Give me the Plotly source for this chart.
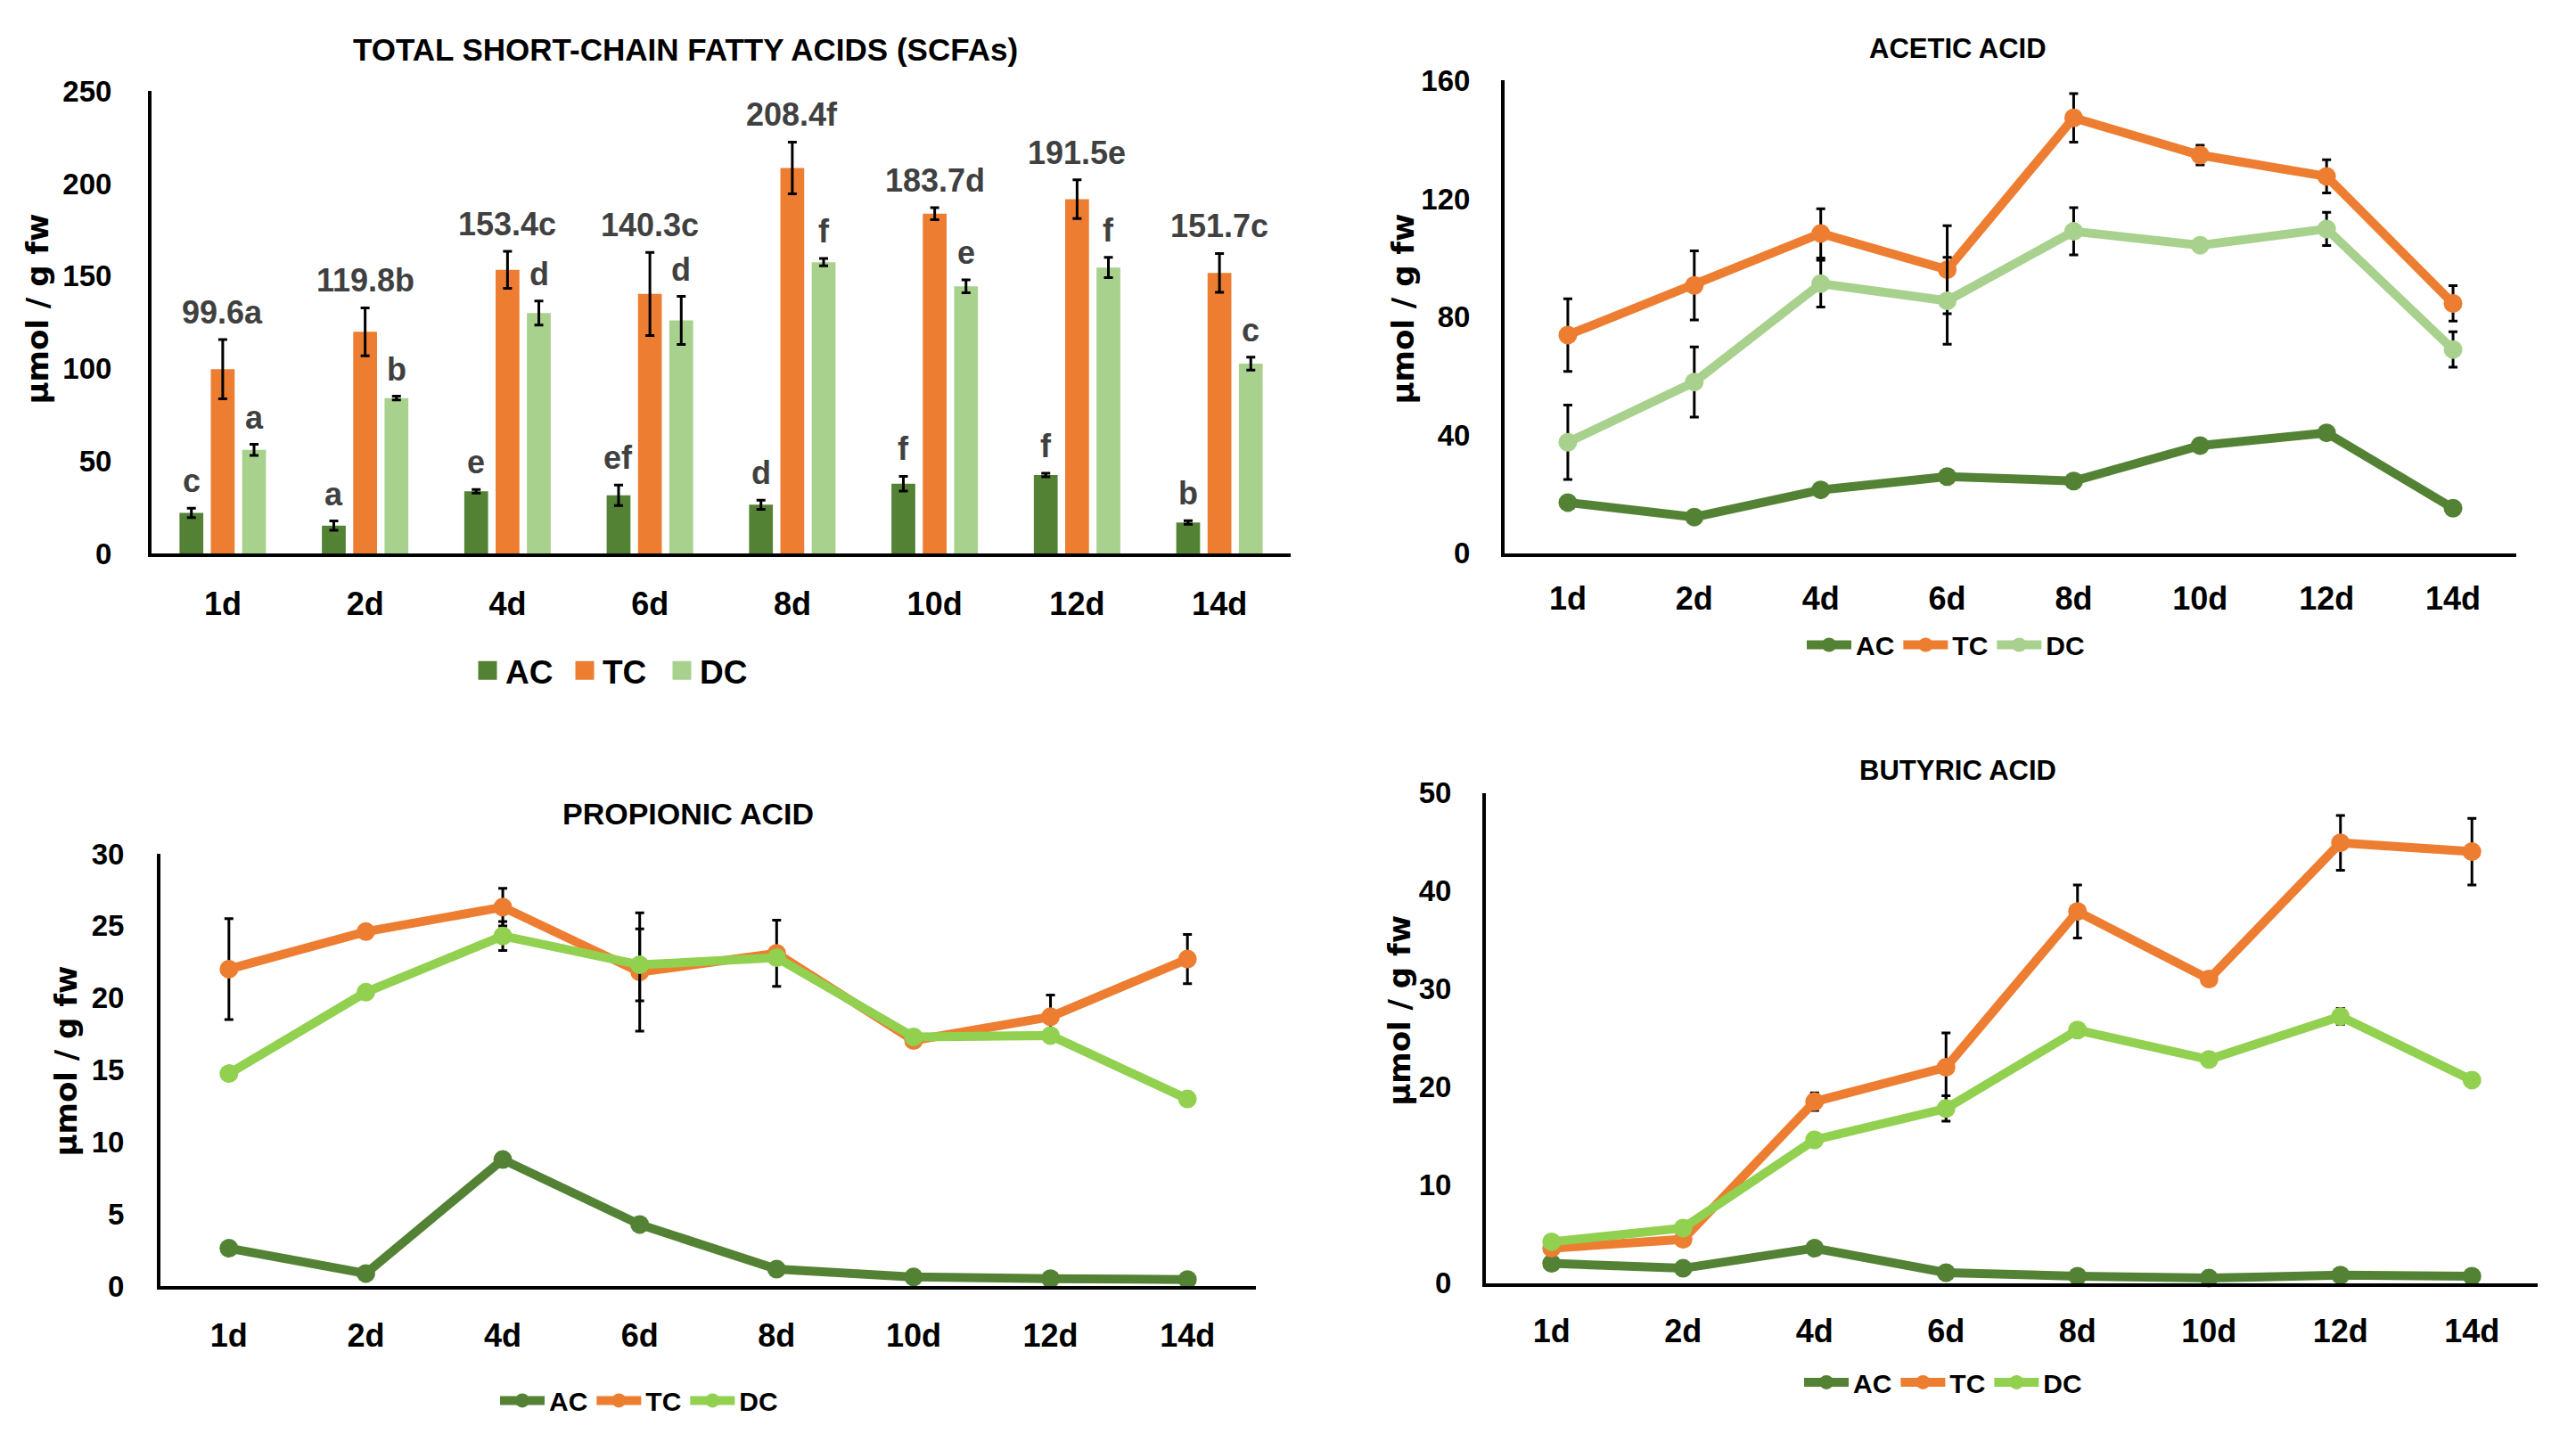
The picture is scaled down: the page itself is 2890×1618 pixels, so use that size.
import plotly.graph_objects as go

days = ["1d", "2d", "4d", "6d", "8d", "10d", "12d", "14d"]
groups = ["AC", "TC", "DC"]

# ---- Total SCFAs (bars) ----
tot_ac = [21.9, 15.0, 33.6, 31.4, 26.3, 37.7, 42.4, 16.7]
tot_ac_err = [2.5, 2.5, 1.0, 5.5, 2.5, 4.0, 1.0, 1.0]
tot_tc = [99.6, 119.8, 153.4, 140.3, 208.4, 183.7, 191.5, 151.7]
tot_tc_err = [16.0, 13.0, 10.0, 22.5, 14.0, 3.3, 10.5, 10.5]
tot_dc = [56.0, 84.0, 130.0, 126.0, 157.5, 144.4, 154.6, 102.6]
tot_dc_err = [3.0, 1.0, 6.5, 13.0, 2.0, 3.5, 5.5, 3.5]
tot_tc_labels = ["99.6a", "119.8b", "153.4c", "140.3c", "208.4f", "183.7d", "191.5e", "151.7c"]
tot_ac_letters = ["c", "a", "e", "ef", "d", "f", "f", "b"]
tot_dc_letters = ["a", "b", "d", "d", "f", "e", "f", "c"]

# ---- Acetic acid ----
ace_ac = [17.2, 12.3, 21.5, 26.0, 24.5, 36.5, 40.8, 15.3]
ace_ac_err = [1.0, 1.0, 1.0, 1.0, 1.0, 2.0, 1.0, 1.0]
ace_tc = [73.9, 90.7, 108.3, 96.0, 147.4, 134.8, 127.6, 84.6]
ace_tc_err = [12.3, 11.7, 8.3, 14.9, 8.2, 3.3, 5.6, 6.0]
ace_dc = [37.6, 58.0, 91.3, 85.5, 109.0, 104.3, 109.8, 69.0]
ace_dc_err = [12.6, 11.9, 7.9, 14.7, 8.0, 1.0, 5.6, 6.0]

# ---- Propionic acid ----
pro_ac = [2.65, 0.9, 8.8, 4.3, 1.2, 0.66, 0.54, 0.48]
pro_ac_err = [0.2, 0.1, 0.2, 0.2, 0.1, 0.05, 0.05, 0.05]
pro_tc = [22.0, 24.6, 26.3, 21.8, 23.1, 17.05, 18.7, 22.7]
pro_tc_err = [3.5, 0.3, 1.3, 4.1, 2.3, 0.2, 1.5, 1.7]
pro_dc = [14.76, 20.4, 24.3, 22.3, 22.8, 17.3, 17.4, 13.0]
pro_dc_err = [0.2, 0.3, 1.0, 2.5, 0.3, 0.2, 0.2, 0.2]

# ---- Butyric acid ----
but_ac = [2.0, 1.5, 3.55, 1.05, 0.7, 0.5, 0.8, 0.7]
but_ac_err = [0.2, 0.2, 0.3, 0.1, 0.1, 0.05, 0.1, 0.1]
but_tc = [3.55, 4.46, 18.5, 22.0, 37.9, 31.0, 44.9, 44.0]
but_tc_err = [0.3, 0.6, 0.9, 3.5, 2.7, 0.3, 2.8, 3.4]
but_dc = [4.2, 5.6, 14.6, 17.8, 25.8, 22.8, 27.2, 20.7]
but_dc_err = [0.2, 0.3, 0.3, 1.3, 0.3, 0.3, 0.8, 0.3]

titles = ["TOTAL SHORT-CHAIN FATTY ACIDS (SCFAs)", "ACETIC ACID", "PROPIONIC ACID", "BUTYRIC ACID"]
ylabel = "µmol / g fw"

# ---- styles ----
PAGE_W, PAGE_H = 2890, 1618
OFF = 8  # default page body margin
W, H = PAGE_W - 2 * OFF, PAGE_H - 2 * OFF


def fx(X):
    return (X - OFF) / W


def fy(Y):
    return 1 - (Y - OFF) / H


C_AC = "#548235"
C_TC = "#ed7d31"
C_DC_BAR = "#a9d18e"
C_DC_ACE = "#a9d18e"
C_DC_LINE = "#92d050"
FONT = "Liberation Sans, Arial, sans-serif"
YFONT = "DejaVu Sans"
LABEL_GRAY = "#404040"

# plot boxes in page pixels: (left, right, bottom(zero), top)
boxes = [
    (170, 1448, 617, 86),
    (1688, 2823, 617, 74),
    (180, 1409, 1459, 962),
    (1667, 2847, 1455, 892),
]
yranges = [(0, 250, 50), (0, 160, 40), (0, 30, 5), (0, 50, 10)]
title_pos = [(769, 38), (2196, 37), (772, 916), (2196, 866)]
title_size = [35, 31, 34, 31]
ylab_pos = [(42, 336), (1574, 336), (74, 1200), (1570, 1142)]
ytick_stand = [34, 28, 30, 28]
xtick_stand = [22, 16, 20, 19]
legend_pos = [(527, 752), (2022, 722), (556, 1590), (2019, 1569)]

fig = go.Figure()

# bars
bar_sets = [(tot_ac, tot_ac_err, C_AC, "AC"), (tot_tc, tot_tc_err, C_TC, "TC"), (tot_dc, tot_dc_err, C_DC_BAR, "DC")]
for vals, errs, col, name in bar_sets:
    fig.add_trace(go.Bar(
        x=days, y=vals, name=name, marker=dict(color=col, line=dict(width=0)),
        error_y=dict(type="data", array=errs, visible=True, color="black", thickness=3, width=5),
        xaxis="x", yaxis="y", showlegend=False,
    ))
# legend entries for the bar chart (square swatches)
for col, name in [(C_AC, "AC"), (C_TC, "TC"), (C_DC_BAR, "DC")]:
    fig.add_trace(go.Scatter(
        x=[None], y=[None], mode="markers", name=name,
        marker=dict(symbol="square", size=16, color=col, line=dict(color=col, width=5)),
        xaxis="x", yaxis="y", legend="legend",
    ))

line_sets = [
    ("2", [(ace_ac, ace_ac_err, C_AC), (ace_tc, ace_tc_err, C_TC), (ace_dc, ace_dc_err, C_DC_ACE)], "legend2"),
    ("3", [(pro_ac, pro_ac_err, C_AC), (pro_tc, pro_tc_err, C_TC), (pro_dc, pro_dc_err, C_DC_LINE)], "legend3"),
    ("4", [(but_ac, but_ac_err, C_AC), (but_tc, but_tc_err, C_TC), (but_dc, but_dc_err, C_DC_LINE)], "legend4"),
]
for ax, sets, leg in line_sets:
    for (vals, errs, col), name in zip(sets, groups):
        fig.add_trace(go.Scatter(
            x=days, y=vals, name=name, mode="lines+markers",
            line=dict(color=col, width=10),
            marker=dict(color=col, size=21),
            error_y=dict(type="data", array=errs, visible=True, color="black", thickness=3, width=5),
            xaxis="x" + ax, yaxis="y" + ax, legend=leg, cliponaxis=False,
        ))

layout = dict(
    width=W, height=H, margin=dict(l=0, r=0, t=0, b=0),
    paper_bgcolor="white", plot_bgcolor="white",
    barmode="group", bargap=0.34, bargroupgap=0.24,
    font=dict(family=FONT, color="black"),
    annotations=[],
)

for i, ((l, r, b, t), (y0, y1, dy)) in enumerate(zip(boxes, yranges)):
    sfx = "" if i == 0 else str(i + 1)
    layout["xaxis" + sfx] = dict(
        domain=[fx(l), fx(r)], anchor="y" + sfx, type="category",
        categoryorder="array", categoryarray=days, range=[-0.5, 7.5],
        showline=True, linecolor="black", linewidth=4, showgrid=False, zeroline=False,
        ticks="", ticklabelstandoff=xtick_stand[i],
        tickfont=dict(family=FONT, size=36, weight="bold", color="black"),
    )
    layout["yaxis" + sfx] = dict(
        domain=[fy(b), fy(t)], anchor="x" + sfx, range=[y0, y1],
        tickmode="linear", tick0=0, dtick=dy,
        showline=True, linecolor="black", linewidth=4, showgrid=False, zeroline=False,
        ticks="", ticklabelstandoff=ytick_stand[i],
        tickfont=dict(family=FONT, size=33, weight="bold", color="black"),
    )
    tx, ty = title_pos[i]
    layout["annotations"].append(dict(
        text=titles[i], x=fx(tx), y=fy(ty), xref="paper", yref="paper",
        xanchor="center", yanchor="middle", showarrow=False,
        font=dict(family=FONT, size=title_size[i], weight="bold", color="black"),
    ))
    lx, ly = ylab_pos[i]
    layout["annotations"].append(dict(
        text=ylabel, x=fx(lx), y=fy(ly), xref="paper", yref="paper",
        xanchor="center", yanchor="middle", showarrow=False, textangle=-90,
        font=dict(family=YFONT, size=34, weight="bold", color="black"),
    ))

# bar labels above error bars
cat_px = (boxes[0][1] - boxes[0][0]) / len(days)
slot = cat_px * (1 - 0.34) / 3
for j, d in enumerate(days):
    for vals, errs, txt, shift in [
        (tot_ac, tot_ac_err, tot_ac_letters[j], -slot),
        (tot_tc, tot_tc_err, tot_tc_labels[j], 0),
        (tot_dc, tot_dc_err, tot_dc_letters[j], slot),
    ]:
        layout["annotations"].append(dict(
            text=txt, x=d, y=vals[j] + errs[j], xref="x", yref="y",
            xanchor="center", yanchor="bottom", yshift=8, xshift=shift, showarrow=False,
            font=dict(family=FONT, size=36, weight="bold", color=LABEL_GRAY),
        ))

leg_common = dict(orientation="h", xanchor="left", yanchor="middle", bgcolor="rgba(0,0,0,0)",
                  tracegroupgap=0)
for k, (lx, ly) in enumerate(legend_pos):
    key = "legend" if k == 0 else "legend" + str(k + 1)
    if k == 0:
        layout[key] = dict(leg_common, x=fx(lx), y=fy(ly), itemwidth=30,
                           entrywidth=64, entrywidthmode="pixels",
                           font=dict(family=FONT, size=37, weight="bold", color="black"))
    else:
        layout[key] = dict(leg_common, x=fx(lx), y=fy(ly), itemwidth=50,
                           font=dict(family=FONT, size=30, weight="bold", color="black"))

fig.update_layout(**layout)
fig.write_html("out.html")
